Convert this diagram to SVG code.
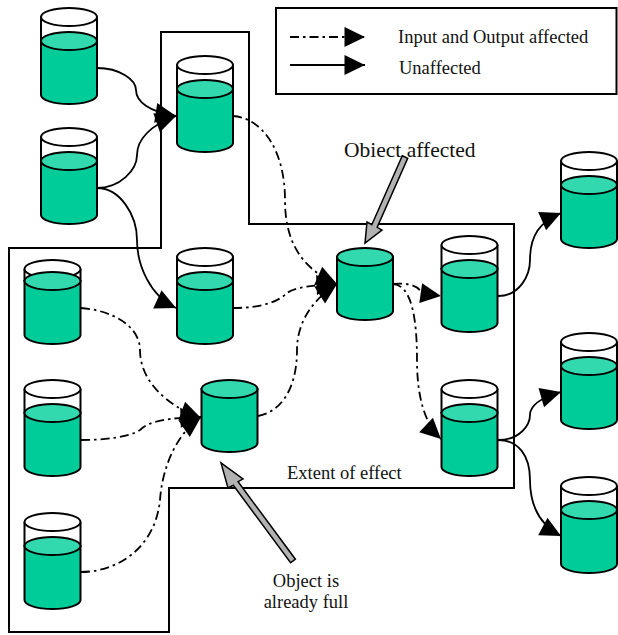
<svg xmlns="http://www.w3.org/2000/svg" width="618" height="635" viewBox="0 0 618 635">
<style>
.o{fill:none;stroke:#000;stroke-width:2}
.w{fill:#fff;stroke:#000;stroke-width:2}
.g{fill:#00cc99;stroke:#000;stroke-width:2}
.l{fill:#33d9ae;stroke:#000;stroke-width:2}
.c{fill:none;stroke:#000;stroke-width:1.8;marker-end:url(#ah)}
.d{stroke-dasharray:9 4 2.500 4}
.b{fill:#b2b2b2;stroke:#000;stroke-width:1.500;stroke-linejoin:miter}
text{font-family:"Liberation Serif","Times New Roman",serif;fill:#111;font-size:18.500px}
</style>
<defs>
<marker id="ah" markerUnits="userSpaceOnUse" markerWidth="21" markerHeight="21" refX="20.500" refY="10.500" orient="auto" overflow="visible"><path d="M0,0.500 L20.500,10.500 L0,20.500z" fill="#000"/></marker>
<g id="cyl"><path class="o" d="M-28,0V24M28,0V24"/><ellipse class="w" cx="0" cy="0" rx="28" ry="9"/><path class="g" d="M-28,24V78A28,9 0 0 0 28,78V24z"/><ellipse class="l" cx="0" cy="24" rx="28" ry="9"/></g>
<g id="cylhi"><path class="o" d="M-28,0V12M28,0V12"/><ellipse class="w" cx="0" cy="0" rx="28" ry="9"/><path class="g" d="M-28,12V66A28,9 0 0 0 28,66V12z"/><ellipse class="l" cx="0" cy="12" rx="28" ry="9"/></g>
<g id="cylfull"><path class="g" d="M-28,0V54A28,9 0 0 0 28,54V0z"/><ellipse class="l" cx="0" cy="0" rx="28" ry="9"/></g>
</defs>
<g id="legend"><rect class="o" x="276" y="8" width="340.500" height="86"/>
<text x="398" y="43">Input and Output affected</text><text x="399" y="74">Unaffected</text></g>
<g id="extent"><path class="o" d="M161,32H249V224H514V488H169V632H9V248H161z"/></g>
<g id="labels"><text x="344" y="157" style="font-size:21.500px">Obiect affected</text>
<text x="287" y="479">Extent of effect</text>
<text x="306" y="587" text-anchor="middle">Object is</text>
<text x="306" y="608" text-anchor="middle">already full</text></g>
<g id="connectors">
<path class="c d" d="M290,37H365"/>
<path class="c" d="M290,65H365"/>
<path class="c" d="M97,68C120,68 136,80 136,90C136,102 150,112 176,116"/>
<path class="c" d="M97,188C120,188 137,170 137,155C137,140 150,125 176,116"/>
<path class="c" d="M97,188C120,188 137,215 137,240C137,265 150,296 176,308"/>
<path class="c d" d="M233,116C262,118 285,150 285,200C285,240 300,268 337,284"/>
<path class="c d" d="M233,308C265,308 280,300 287,293C295,287 315,285 337,284"/>
<path class="c d" d="M258,416C280,412 297,390 297,350C297,320 315,298 337,284"/>
<path class="c d" d="M393,284C405,283 417,284 421,292C426,294 434,295 441,296"/>
<path class="c d" d="M393,284C412,285 417,320 417,360C417,395 424,423 441,439"/>
<path class="c" d="M498,296C520,296 530,275 530,260C530,235 540,222 561,213"/>
<path class="c" d="M498,440C520,440 530,425 530,415C530,405 540,398 561,392"/>
<path class="c" d="M498,440C518,440 530,455 530,480C530,505 540,525 561,536"/>
<path class="c d" d="M81,308C110,310 140,325 140,350C140,380 165,405 201,418"/>
<path class="c d" d="M81,440C105,440 130,437 140,430C150,420 170,418 201,417"/>
<path class="c d" d="M81,572C115,572 155,550 160,500C162,470 175,435 201,417"/>
</g>
<g id="n1"><use href="#cyl" x="69" y="17"/></g>
<g id="n2"><use href="#cyl" x="69" y="137"/></g>
<g id="n3"><use href="#cyl" x="205" y="65"/></g>
<g id="n4"><use href="#cyl" x="205" y="257"/></g>
<g id="n5"><use href="#cylhi" x="52.500" y="269"/></g>
<g id="n6"><use href="#cyl" x="52.500" y="389"/></g>
<g id="n7"><use href="#cyl" x="52.500" y="522"/></g>
<g id="n8"><use href="#cylfull" x="229.500" y="389"/></g>
<g id="n9"><use href="#cylfull" x="365" y="257"/></g>
<g id="n10"><use href="#cyl" x="469.500" y="245"/></g>
<g id="n11"><use href="#cyl" x="469.500" y="389"/></g>
<g id="n12"><use href="#cyl" x="589" y="161"/></g>
<g id="n13"><use href="#cyl" x="589" y="342"/></g>
<g id="n14"><use href="#cyl" x="589" y="486"/></g>
<g id="callouts">
<path class="b" d="M402.300,155.700L407.700,158.300L377.200,227.300L382,230L365,243L367,222L371.800,224.700z"/>
<path class="b" d="M295.400,559.200L290.600,562.800L233.300,485.300L228,488L221,463L243,479L238.100,481.700z"/>
</g>
</svg>
